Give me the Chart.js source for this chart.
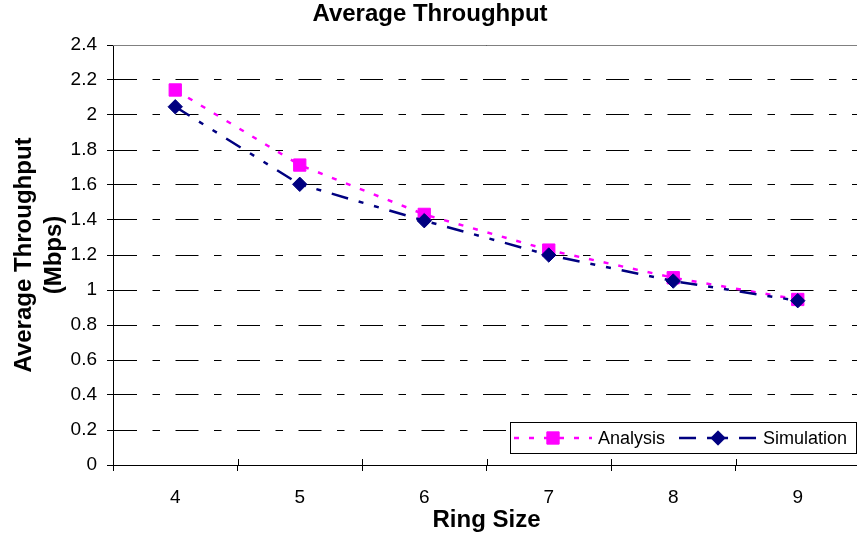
<!DOCTYPE html>
<html>
<head>
<meta charset="utf-8">
<script src="https://cdn.jsdelivr.net/npm/chart.js@4/dist/chart.umd.min.js"></script>
<style>
    html, body { margin: 0; padding: 0; background: #fff; overflow: hidden; }
    #wrap { width: 857px; height: 540px; overflow: hidden; }
    canvas { display: block; }
</style>
</head>
<body>
<div id="wrap"><canvas id="throughput-chart" width="870" height="540"></canvas></div>
<script>
// Ring sizes (x categories)
const ringSizes = ['4', '5', '6', '7', '8', '9'];

// Average throughput in Mbps
const analysisValues = [2.143, 1.714, 1.432, 1.228, 1.07, 0.946];
const simulationValues = [2.047, 1.604, 1.396, 1.20, 1.051, 0.939];

// Y axis ticks
const yTicks = [0, 0.2, 0.4, 0.6, 0.8, 1, 1.2, 1.4, 1.6, 1.8, 2, 2.2, 2.4];

const FONT = "'Liberation Sans', Arial, sans-serif";
Chart.defaults.font.family = FONT;
Chart.defaults.color = '#000';

// Gray plot area edge at the top
const plotBorder = {
    id: 'plotBorder',
    beforeDatasetsDraw(chart) {
        const { ctx, chartArea } = chart;
        ctx.save();
        ctx.strokeStyle = '#808080';
        ctx.lineWidth = 1;
        ctx.beginPath();
        ctx.moveTo(chartArea.left, Math.round(chartArea.top) + 0.5);
        ctx.lineTo(chartArea.right, Math.round(chartArea.top) + 0.5);
        ctx.stroke();
        ctx.restore();
    }
};

// Excel style "cross" tick marks on the category axis (upper half)
const crossTicks = {
    id: 'crossTicks',
    afterDraw(chart) {
        const { ctx } = chart;
        const x = chart.scales.x;
        const n = ringSizes.length;
        ctx.save();
        ctx.strokeStyle = '#000';
        ctx.lineWidth = 1;
        ctx.beginPath();
        for (let i = 0; i <= n; i++) {
            const px = Math.round(x.left + i * (x.width / n)) + 0.5;
            ctx.moveTo(px, x.top);
            ctx.lineTo(px, x.top - 6);
        }
        ctx.stroke();
        ctx.restore();
    }
};

function drawMarker(ctx, ds, cx, cy) {
    const r = ds.pointRadius;
    ctx.save();
    ctx.fillStyle = ds.pointBackgroundColor;
    ctx.strokeStyle = ds.pointBorderColor;
    ctx.lineWidth = ds.pointBorderWidth;
    ctx.setLineDash([]);
    ctx.beginPath();
    if (ds.pointStyle === 'rect') {
        const s = Math.SQRT1_2 * r;
        ctx.rect(cx - s, cy - s, 2 * s, 2 * s);
    } else {
        ctx.moveTo(cx - r, cy);
        ctx.lineTo(cx, cy - r);
        ctx.lineTo(cx + r, cy);
        ctx.lineTo(cx, cy + r);
        ctx.closePath();
    }
    ctx.fill();
    ctx.stroke();
    ctx.restore();
}

// Legend box inside the plot area, bottom right
const insideLegend = {
    id: 'insideLegend',
    afterDraw(chart) {
        const { ctx } = chart;
        const box = { left: 510.5, top: 422.5, right: 856.5, bottom: 453.5 };
        const midY = (box.top + box.bottom) / 2;
        ctx.save();
        ctx.fillStyle = '#fff';
        ctx.strokeStyle = '#000';
        ctx.lineWidth = 1;
        ctx.fillRect(box.left, box.top, box.right - box.left, box.bottom - box.top);
        ctx.strokeRect(box.left, box.top, box.right - box.left, box.bottom - box.top);

        ctx.font = '18px ' + FONT;
        ctx.textBaseline = 'middle';
        ctx.textAlign = 'left';

        const lineLen = 78;
        let x = 514;
        chart.data.datasets.forEach(ds => {
            ctx.save();
            ctx.strokeStyle = ds.borderColor;
            ctx.lineWidth = ds.borderWidth;
            ctx.setLineDash(ds.borderDash || []);
            ctx.beginPath();
            ctx.moveTo(x, midY);
            ctx.lineTo(x + lineLen, midY);
            ctx.stroke();
            ctx.restore();
            drawMarker(ctx, ds, x + lineLen / 2, midY);
            ctx.fillStyle = '#000';
            ctx.fillText(ds.label, x + lineLen + 6, midY + 1);
            x += lineLen + 6 + ctx.measureText(ds.label).width + 14;
        });
        ctx.restore();
    }
};

const ctx = document.getElementById('throughput-chart');

new Chart(ctx, {
    type: 'line',
    data: {
        labels: ringSizes,
        datasets: [
            {
                label: 'Analysis',
                data: analysisValues,
                borderColor: '#ff00ff',
                borderWidth: 2.5,
                borderDash: [5, 10],
                pointStyle: 'rect',
                pointRadius: 8.7,
                pointBackgroundColor: '#ff00ff',
                pointBorderColor: '#ff00ff',
                pointBorderWidth: 1,
                tension: 0,
                order: 1
            },
            {
                label: 'Simulation',
                data: simulationValues,
                borderColor: '#000080',
                borderWidth: 2.5,
                borderDash: [17, 11, 5, 11, 5, 11],
                pointStyle: 'rectRot',
                pointRadius: 7.2,
                pointBackgroundColor: '#000080',
                pointBorderColor: '#000080',
                pointBorderWidth: 1,
                tension: 0,
                order: 0
            }
        ]
    },
    options: {
        responsive: false,
        animation: false,
        layout: { padding: { left: 0, right: 10, top: 0, bottom: 0 } },
        plugins: {
            legend: { display: false },
            tooltip: { enabled: false },
            title: {
                display: true,
                text: 'Average Throughput',
                color: '#000',
                font: { size: 24, weight: 'bold', lineHeight: 1 },
                padding: { top: 2, bottom: 19 }
            }
        },
        scales: {
            x: {
                type: 'category',
                offset: true,
                afterFit: (scale) => { scale.height = 75; },
                grid: {
                    offset: true,
                    drawOnChartArea: false,
                    drawTicks: true,
                    tickLength: 6,
                    color: '#000'
                },
                border: { display: true, color: '#000', width: 1 },
                ticks: {
                    color: '#000',
                    font: { size: 19, lineHeight: 1.2 },
                    padding: 15,
                    maxRotation: 0,
                    autoSkip: false
                },
                title: {
                    display: true,
                    text: 'Ring Size',
                    color: '#000',
                    font: { size: 24, weight: 'bold', lineHeight: 1 },
                    padding: { top: 0, bottom: 8 }
                }
            },
            y: {
                min: 0,
                max: 2.4,
                afterFit: (scale) => { scale.width = 113; },
                afterBuildTicks: (scale) => {
                    scale.ticks = yTicks.map(v => ({ value: v }));
                },
                grid: {
                    color: '#000',
                    lineWidth: 1,
                    drawTicks: true,
                    tickLength: 6
                },
                border: { display: true, color: '#000', width: 1, dash: [23, 15.5, 7.5, 15.5] },
                ticks: {
                    color: '#000',
                    font: { size: 19, lineHeight: 1.2 },
                    padding: 10,
                    callback: (value) => String(Number(value.toFixed(1)))
                },
                title: {
                    display: true,
                    text: ['Average Throughput', '(Mbps)'],
                    color: '#000',
                    font: { size: 24, weight: 'bold', lineHeight: 1.25 },
                    padding: { top: 9, bottom: 0 }
                }
            }
        }
    },
    plugins: [plotBorder, crossTicks, insideLegend]
});
</script>
</body>
</html>
